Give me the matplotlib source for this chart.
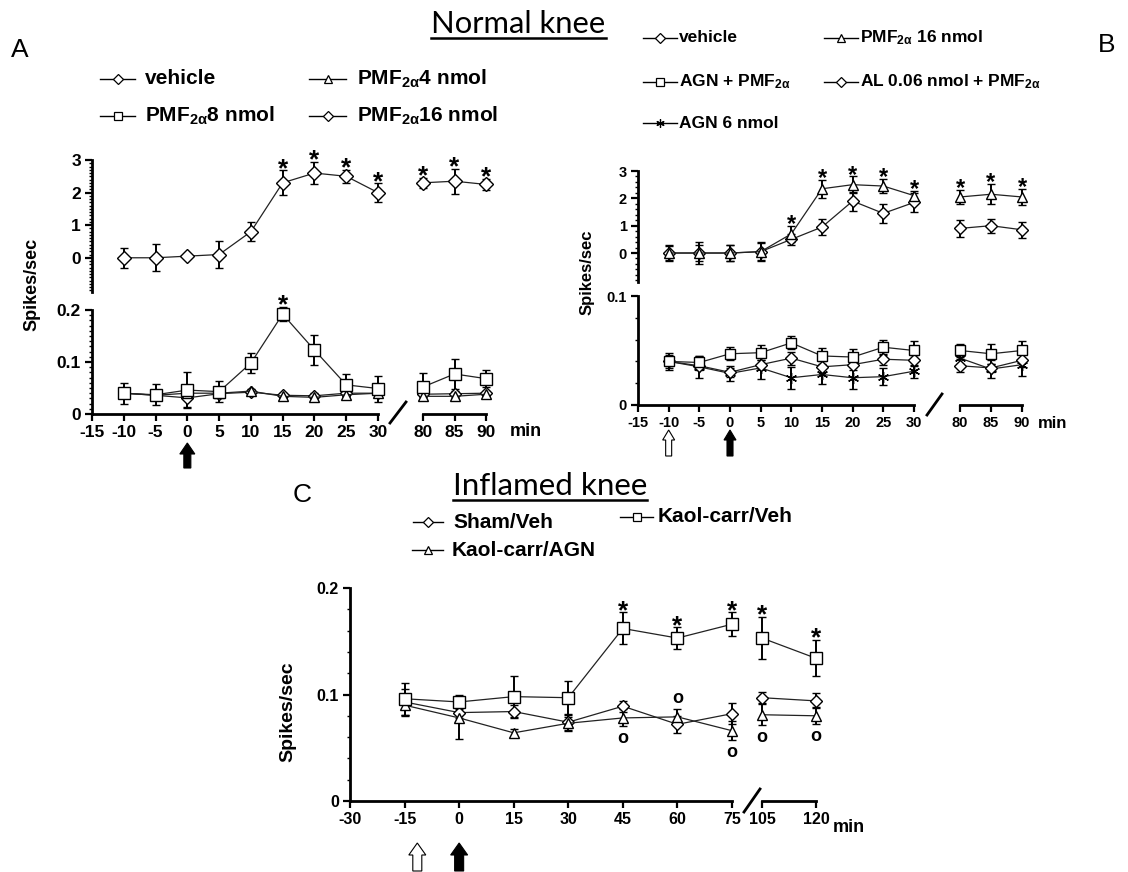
import matplotlib
matplotlib.use('Agg')
import matplotlib.pyplot as plt
from matplotlib.lines import Line2D
from matplotlib.patches import Polygon
from matplotlib.ticker import FixedLocator, MultipleLocator, FuncFormatter

plt.rcParams['font.family'] = ['Liberation Sans', 'DejaVu Sans']
plt.rcParams['font.weight'] = 'bold'
plt.rcParams['mathtext.fontset'] = 'custom'
for k in ['rm', 'it', 'bf', 'sf']:
    plt.rcParams['mathtext.' + k] = 'Liberation Sans:bold'

# ---------------- data ----------------
A_time = [-10, -5, 0, 5, 10, 15, 20, 25, 30, 80, 85, 90]
A_pmf16 = [0.0, 0.0, 0.05, 0.1, 0.8, 2.3, 2.6, 2.5, 2.0, 2.3, 2.35, 2.25]
A_pmf16_err = [0.3, 0.42, 0.05, 0.4, 0.3, 0.38, 0.34, 0.2, 0.28, 0.15, 0.38, 0.17]
A_pmf8 = [0.040, 0.037, 0.046, 0.043, 0.098, 0.192, 0.123, 0.056, 0.049, 0.052, 0.077, 0.068]
A_pmf8_err = [0.02, 0.02, 0.035, 0.02, 0.02, 0.014, 0.028, 0.021, 0.025, 0.026, 0.029, 0.017]
A_pmf4 = [0.040, 0.036, 0.040, 0.040, 0.044, 0.034, 0.032, 0.037, 0.040, 0.034, 0.034, 0.038]
A_pmf4_err = [0.004, 0.004, 0.004, 0.004, 0.004, 0.004, 0.005, 0.004, 0.004, 0.005, 0.004, 0.004]
A_vehicle = [0.040, 0.036, 0.031, 0.039, 0.042, 0.036, 0.035, 0.040, 0.040, 0.038, 0.039, 0.040]
A_vehicle_err = [0.005, 0.005, 0.018, 0.005, 0.005, 0.005, 0.005, 0.005, 0.005, 0.005, 0.005, 0.005]
A_star_upper = [15, 20, 25, 30, 80, 85, 90]
A_star_lower = [15]

B_time = [-10, -5, 0, 5, 10, 15, 20, 25, 30, 80, 85, 90]
B_pmf16 = [0.0, 0.0, 0.0, 0.05, 0.7, 2.35, 2.5, 2.45, 2.1, 2.05, 2.15, 2.05]
B_pmf16_err = [0.3, 0.4, 0.3, 0.35, 0.3, 0.32, 0.3, 0.27, 0.18, 0.27, 0.37, 0.3]
B_al = [0.0, 0.0, 0.0, 0.05, 0.5, 0.95, 1.9, 1.45, 1.85, 0.9, 1.0, 0.85]
B_al_err = [0.25, 0.3, 0.3, 0.3, 0.2, 0.3, 0.35, 0.35, 0.35, 0.3, 0.25, 0.3]
B_agn_pmf = [0.040, 0.039, 0.047, 0.048, 0.057, 0.045, 0.044, 0.053, 0.050, 0.050, 0.047, 0.050]
B_agn_pmf_err = [0.006, 0.006, 0.006, 0.007, 0.006, 0.007, 0.007, 0.007, 0.009, 0.006, 0.009, 0.009]
B_vehicle = [0.040, 0.036, 0.030, 0.037, 0.043, 0.035, 0.037, 0.042, 0.041, 0.036, 0.034, 0.041]
B_vehicle_err = [0.004, 0.004, 0.004, 0.004, 0.006, 0.005, 0.005, 0.005, 0.005, 0.006, 0.004, 0.006]
B_agn = [0.040, 0.035, 0.029, 0.034, 0.025, 0.028, 0.025, 0.026, 0.031, 0.043, 0.033, 0.037]
B_agn_err = [0.008, 0.01, 0.007, 0.01, 0.01, 0.009, 0.01, 0.008, 0.006, 0.005, 0.008, 0.01]
B_star_upper = [10, 15, 20, 25, 30, 80, 85, 90]

C_time = [-15, 0, 15, 30, 45, 60, 75, 105, 120]
C_kc_veh = [0.096, 0.093, 0.098, 0.097, 0.162, 0.153, 0.166, 0.153, 0.134]
C_kc_veh_err = [0.015, 0.007, 0.019, 0.016, 0.015, 0.01, 0.011, 0.02, 0.017]
C_sham = [0.093, 0.083, 0.084, 0.074, 0.089, 0.072, 0.082, 0.097, 0.094]
C_sham_err = [0.012, 0.005, 0.006, 0.008, 0.005, 0.008, 0.01, 0.005, 0.007]
C_kc_agn = [0.090, 0.078, 0.064, 0.073, 0.078, 0.079, 0.066, 0.081, 0.080]
C_kc_agn_err = [0.01, 0.02, 0.004, 0.006, 0.008, 0.007, 0.009, 0.01, 0.008]
C_star = [45, 60, 75, 105, 120]
C_circle_below = [45, 75, 105, 120]
C_circle_above = [60]

A_xticks_main = [-15, -10, -5, 0, 5, 10, 15, 20, 25, 30]
A_xticks_late = [80, 85, 90]
C_xticks_main = [-30, -15, 0, 15, 30, 45, 60, 75]
C_xticks_late = [105, 120]

# ---------------- helpers ----------------
W, H = 1128, 872
fig = plt.figure(figsize=(W / 100, H / 100), dpi=100)
fig.patch.set_facecolor('white')


def fx(x):
    return x / W


def fy(y):
    return 1 - y / H


def px_axes(x0, x1, ytop, ybot, xlim, ylim, left=True, bottom=True):
    ax = fig.add_axes([x0 / W, 1 - ybot / H, (x1 - x0) / W, (ybot - ytop) / H])
    ax.set_xlim(*xlim)
    ax.set_ylim(*ylim)
    ax.patch.set_alpha(0)
    for s in ['top', 'right']:
        ax.spines[s].set_visible(False)
    ax.spines['left'].set_visible(left)
    ax.spines['bottom'].set_visible(bottom)
    for s in ax.spines.values():
        s.set_linewidth(2.0)
    if not left:
        ax.set_yticks([])
    if not bottom:
        ax.set_xticks([])
    ax.tick_params(direction='out', which='major', length=5, width=1.6, pad=3)
    ax.tick_params(direction='out', which='minor', length=2.5, width=1.0)
    return ax


def fmt(v, pos):
    return '0' if v == 0 else ('%g' % v)


def set_y(ax, majors, minor_step, size):
    ax.yaxis.set_major_locator(FixedLocator(majors))
    ax.yaxis.set_minor_locator(MultipleLocator(minor_step))
    ax.yaxis.set_major_formatter(FuncFormatter(fmt))
    ax.tick_params(axis='y', labelsize=size)


def set_x(ax, ticks, size):
    ax.xaxis.set_major_locator(FixedLocator(ticks))
    ax.xaxis.set_major_formatter(FuncFormatter(lambda v, p: '%d' % v))
    ax.tick_params(axis='x', labelsize=size)


def in_range(xs, ys, es, lo, hi):
    return [(x, y, e) for x, y, e in zip(xs, ys, es) if lo <= x <= hi]


def series(ax, xs, ys, es, lo, hi, marker, ms, mew=1.0):
    x, y, e = zip(*in_range(xs, ys, es, lo, hi))
    c = ax.errorbar(x, y, yerr=e, color='#222222', lw=0.9, marker=marker, ms=ms,
                    mfc='white', mec='black', mew=mew, ecolor='black',
                    elinewidth=1.4, capsize=3.2, capthick=1.4, zorder=3)
    for a in c.get_children():
        a.set_clip_on(False)


def stars(ax, xs, ys, es, which, lo, hi, size=19):
    for x, y, e in in_range(xs, ys, es, lo, hi):
        if x in which:
            ax.annotate('*', (x, y + e), xytext=(0, 1), textcoords='offset points',
                        ha='center', va='center', fontsize=size, fontweight='bold',
                        annotation_clip=False)


def circles(ax, xs, ys, es, below, above, lo, hi):
    for x, y, e in in_range(xs, ys, es, lo, hi):
        if x in below:
            ax.annotate('o', (x, y - e), xytext=(0, -8.5), textcoords='offset points',
                        ha='center', va='center', fontsize=13, fontweight='bold',
                        annotation_clip=False)
        if x in above:
            ax.annotate('o', (x, y + e), xytext=(0, 8), textcoords='offset points',
                        ha='center', va='center', fontsize=13, fontweight='bold',
                        annotation_clip=False)


def slash(x0, y0, x1, y1):
    fig.add_artist(Line2D([fx(x0), fx(x1)], [fy(y0), fy(y1)], transform=fig.transFigure,
                          color='black', lw=2.0))


def up_arrow(ax, xval, ytop, ybot, head_w, shaft_w, head_h, face):
    xc = ax.transData.transform((xval, 0))[0]
    pts = [(xc - shaft_w / 2, ybot), (xc - shaft_w / 2, ytop + head_h),
           (xc - head_w / 2, ytop + head_h), (xc, ytop),
           (xc + head_w / 2, ytop + head_h), (xc + shaft_w / 2, ytop + head_h),
           (xc + shaft_w / 2, ybot)]
    fig.add_artist(Polygon([(fx(a), fy(b)) for a, b in pts], closed=True,
                           transform=fig.transFigure, facecolor=face,
                           edgecolor='black', lw=0.8))


def legend_entry(x0, x1, y, marker, ms, label, size, tx):
    fig.add_artist(Line2D([fx(x0), fx(x1)], [fy(y), fy(y)], transform=fig.transFigure,
                          color='black', lw=1.0))
    fig.add_artist(Line2D([fx((x0 + x1) / 2)], [fy(y)], transform=fig.transFigure,
                          marker=marker, ms=ms, mfc='white', mec='black', mew=0.9,
                          lw=0))
    fig.text(fx(tx), fy(y), label, fontsize=size, fontweight='bold', va='center', ha='left')


def title(xc, ybase, s, target_w, uline_y):
    t = fig.text(fx(xc), fy(ybase), s, fontsize=20, family=['Lato', 'DejaVu Sans'],
                 fontweight='normal', ha='center', va='baseline')
    r = fig.canvas.get_renderer()
    w = t.get_window_extent(r).width
    t.set_fontsize(20 * target_w / w)
    fig.add_artist(Line2D([fx(xc - target_w / 2), fx(xc + target_w / 2)],
                          [fy(uline_y), fy(uline_y)], transform=fig.transFigure,
                          color='black', lw=1.8))


def ylabel(x, y, size):
    fig.text(fx(x), fy(y), 'Spikes/sec', rotation=90, fontsize=size, fontweight='bold',
             ha='center', va='center')


# ---------------- Panel A ----------------
aU = px_axes(92, 378, 160, 292, (-15, 30), (-1.05, 3), bottom=False)
set_y(aU, [0, 1, 2, 3], 0.1, 12.5)
aU2 = px_axes(423, 486, 160, 292, (80, 90), (-1.05, 3), left=False, bottom=False)
aL = px_axes(92, 378, 310, 414, (-15, 30), (0, 0.2))
set_y(aL, [0, 0.1, 0.2], 0.01, 12.5)
set_x(aL, A_xticks_main, 12.5)
aL2 = px_axes(423, 486, 310, 414, (80, 90), (0, 0.2), left=False)
set_x(aL2, A_xticks_late, 12.5)

for ax, lo, hi in [(aU, -15, 30), (aU2, 80, 90)]:
    series(ax, A_time, A_pmf16, A_pmf16_err, lo, hi, 'D', 7)
    stars(ax, A_time, A_pmf16, A_pmf16_err, A_star_upper, lo, hi)
for ax, lo, hi in [(aL, -15, 30), (aL2, 80, 90)]:
    series(ax, A_time, A_vehicle, A_vehicle_err, lo, hi, 'D', 6.5)
    series(ax, A_time, A_pmf4, A_pmf4_err, lo, hi, '^', 7.5)
    series(ax, A_time, A_pmf8, A_pmf8_err, lo, hi, 's', 8)
    stars(ax, A_time, A_pmf8, A_pmf8_err, A_star_lower, lo, hi)

slash(390, 423, 406, 402)
fig.text(fx(510), fy(431), 'min', fontsize=13, fontweight='bold', va='center', ha='left')
ylabel(32, 284, 13)
up_arrow(aL, 0, 443, 468, 15, 7, 11, 'black')
fig.text(fx(20), fy(50), 'A', fontsize=19, fontweight='normal', ha='center', va='center')

legend_entry(100, 135, 79, 'D', 5, 'vehicle', 15, 145)
legend_entry(100, 135, 116, 's', 5.5, 'PMF$_{2α}$8 nmol', 15, 145)
legend_entry(309, 346, 79, '^', 6, 'PMF$_{2α}$4 nmol', 15, 357)
legend_entry(309, 346, 116, 'D', 5, 'PMF$_{2α}$16 nmol', 15, 357)

title(518, 33, 'Normal knee', 175, 38)

# ---------------- Panel B ----------------
bU = px_axes(638, 914, 171, 282, (-15, 30), (-1.06, 3), bottom=False)
set_y(bU, [0, 1, 2, 3], 0.2, 10.5)
bU2 = px_axes(960, 1022, 171, 282, (80, 90), (-1.06, 3), left=False, bottom=False)
bL = px_axes(638, 914, 296, 405, (-15, 30), (0, 0.1))
set_y(bL, [0, 0.1], 0.02, 10.5)
set_x(bL, A_xticks_main, 10.5)
bL2 = px_axes(960, 1022, 296, 405, (80, 90), (0, 0.1), left=False)
set_x(bL2, A_xticks_late, 10.5)

for ax, lo, hi in [(bU, -15, 30), (bU2, 80, 90)]:
    series(ax, B_time, B_al, B_al_err, lo, hi, 'D', 6.5)
    series(ax, B_time, B_pmf16, B_pmf16_err, lo, hi, '^', 7)
    stars(ax, B_time, B_pmf16, B_pmf16_err, B_star_upper, lo, hi, size=17)
for ax, lo, hi in [(bL, -15, 30), (bL2, 80, 90)]:
    series(ax, B_time, B_agn, B_agn_err, lo, hi, (6, 2, 0), 8)
    series(ax, B_time, B_vehicle, B_vehicle_err, lo, hi, 'D', 6)
    series(ax, B_time, B_agn_pmf, B_agn_pmf_err, lo, hi, 's', 7.5)

slash(927, 415, 942, 394)
fig.text(fx(1038), fy(423), 'min', fontsize=12, fontweight='bold', va='center', ha='left')
ylabel(587, 272, 12)
up_arrow(bL, -10, 430, 456, 12, 6, 10, 'white')
up_arrow(bL, 0, 430, 456, 12, 6, 10, 'black')
fig.text(fx(1107), fy(45), 'B', fontsize=19, fontweight='normal', ha='center', va='center')

legend_entry(643, 677, 38, 'D', 5, 'vehicle', 12.5, 679)
legend_entry(643, 677, 82, 's', 5.5, 'AGN + PMF$_{2α}$', 12.5, 679)
legend_entry(643, 677, 123, (6, 2, 0), 6, 'AGN 6 nmol', 12.5, 679)
legend_entry(824, 858, 38, '^', 6, 'PMF$_{2α}$ 16 nmol', 12.5, 860)
legend_entry(824, 858, 82, 'D', 5, 'AL 0.06 nmol + PMF$_{2α}$', 12.5, 860)

# ---------------- Panel C ----------------
c1 = px_axes(350, 732, 588, 801, (-30, 75), (0, 0.2))
set_y(c1, [0, 0.1, 0.2], 0.02, 11.5)
set_x(c1, C_xticks_main, 11.5)
c2 = px_axes(762, 816, 588, 801, (105, 120), (0, 0.2), left=False)
set_x(c2, C_xticks_late, 11.5)

for ax, lo, hi in [(c1, -30, 75), (c2, 105, 120)]:
    series(ax, C_time, C_sham, C_sham_err, lo, hi, 'D', 6.5)
    series(ax, C_time, C_kc_agn, C_kc_agn_err, lo, hi, '^', 7.5)
    series(ax, C_time, C_kc_veh, C_kc_veh_err, lo, hi, 's', 8.5)
    stars(ax, C_time, C_kc_veh, C_kc_veh_err, C_star, lo, hi)
    circles(ax, C_time, C_kc_agn, C_kc_agn_err, C_circle_below, C_circle_above, lo, hi)

slash(744, 812, 760, 789)
fig.text(fx(833), fy(827), 'min', fontsize=13, fontweight='bold', va='center', ha='left')
ylabel(288, 712, 14)
up_arrow(c1, -11.5, 843, 871, 17, 9, 12, 'white')
up_arrow(c1, 0, 843, 871, 17, 9, 12, 'black')
fig.text(fx(302), fy(495), 'C', fontsize=19, fontweight='normal', ha='center', va='center')

legend_entry(413, 443, 522, 'D', 5, 'Sham/Veh', 15, 453)
legend_entry(412, 443, 550, '^', 6, 'Kaol-carr/AGN', 15, 452)
legend_entry(620, 653, 517, 's', 5.5, 'Kaol-carr/Veh', 15, 658)

title(550, 495, 'Inflamed knee', 195, 500)

fig.savefig('out.png', dpi=100, facecolor='white')
